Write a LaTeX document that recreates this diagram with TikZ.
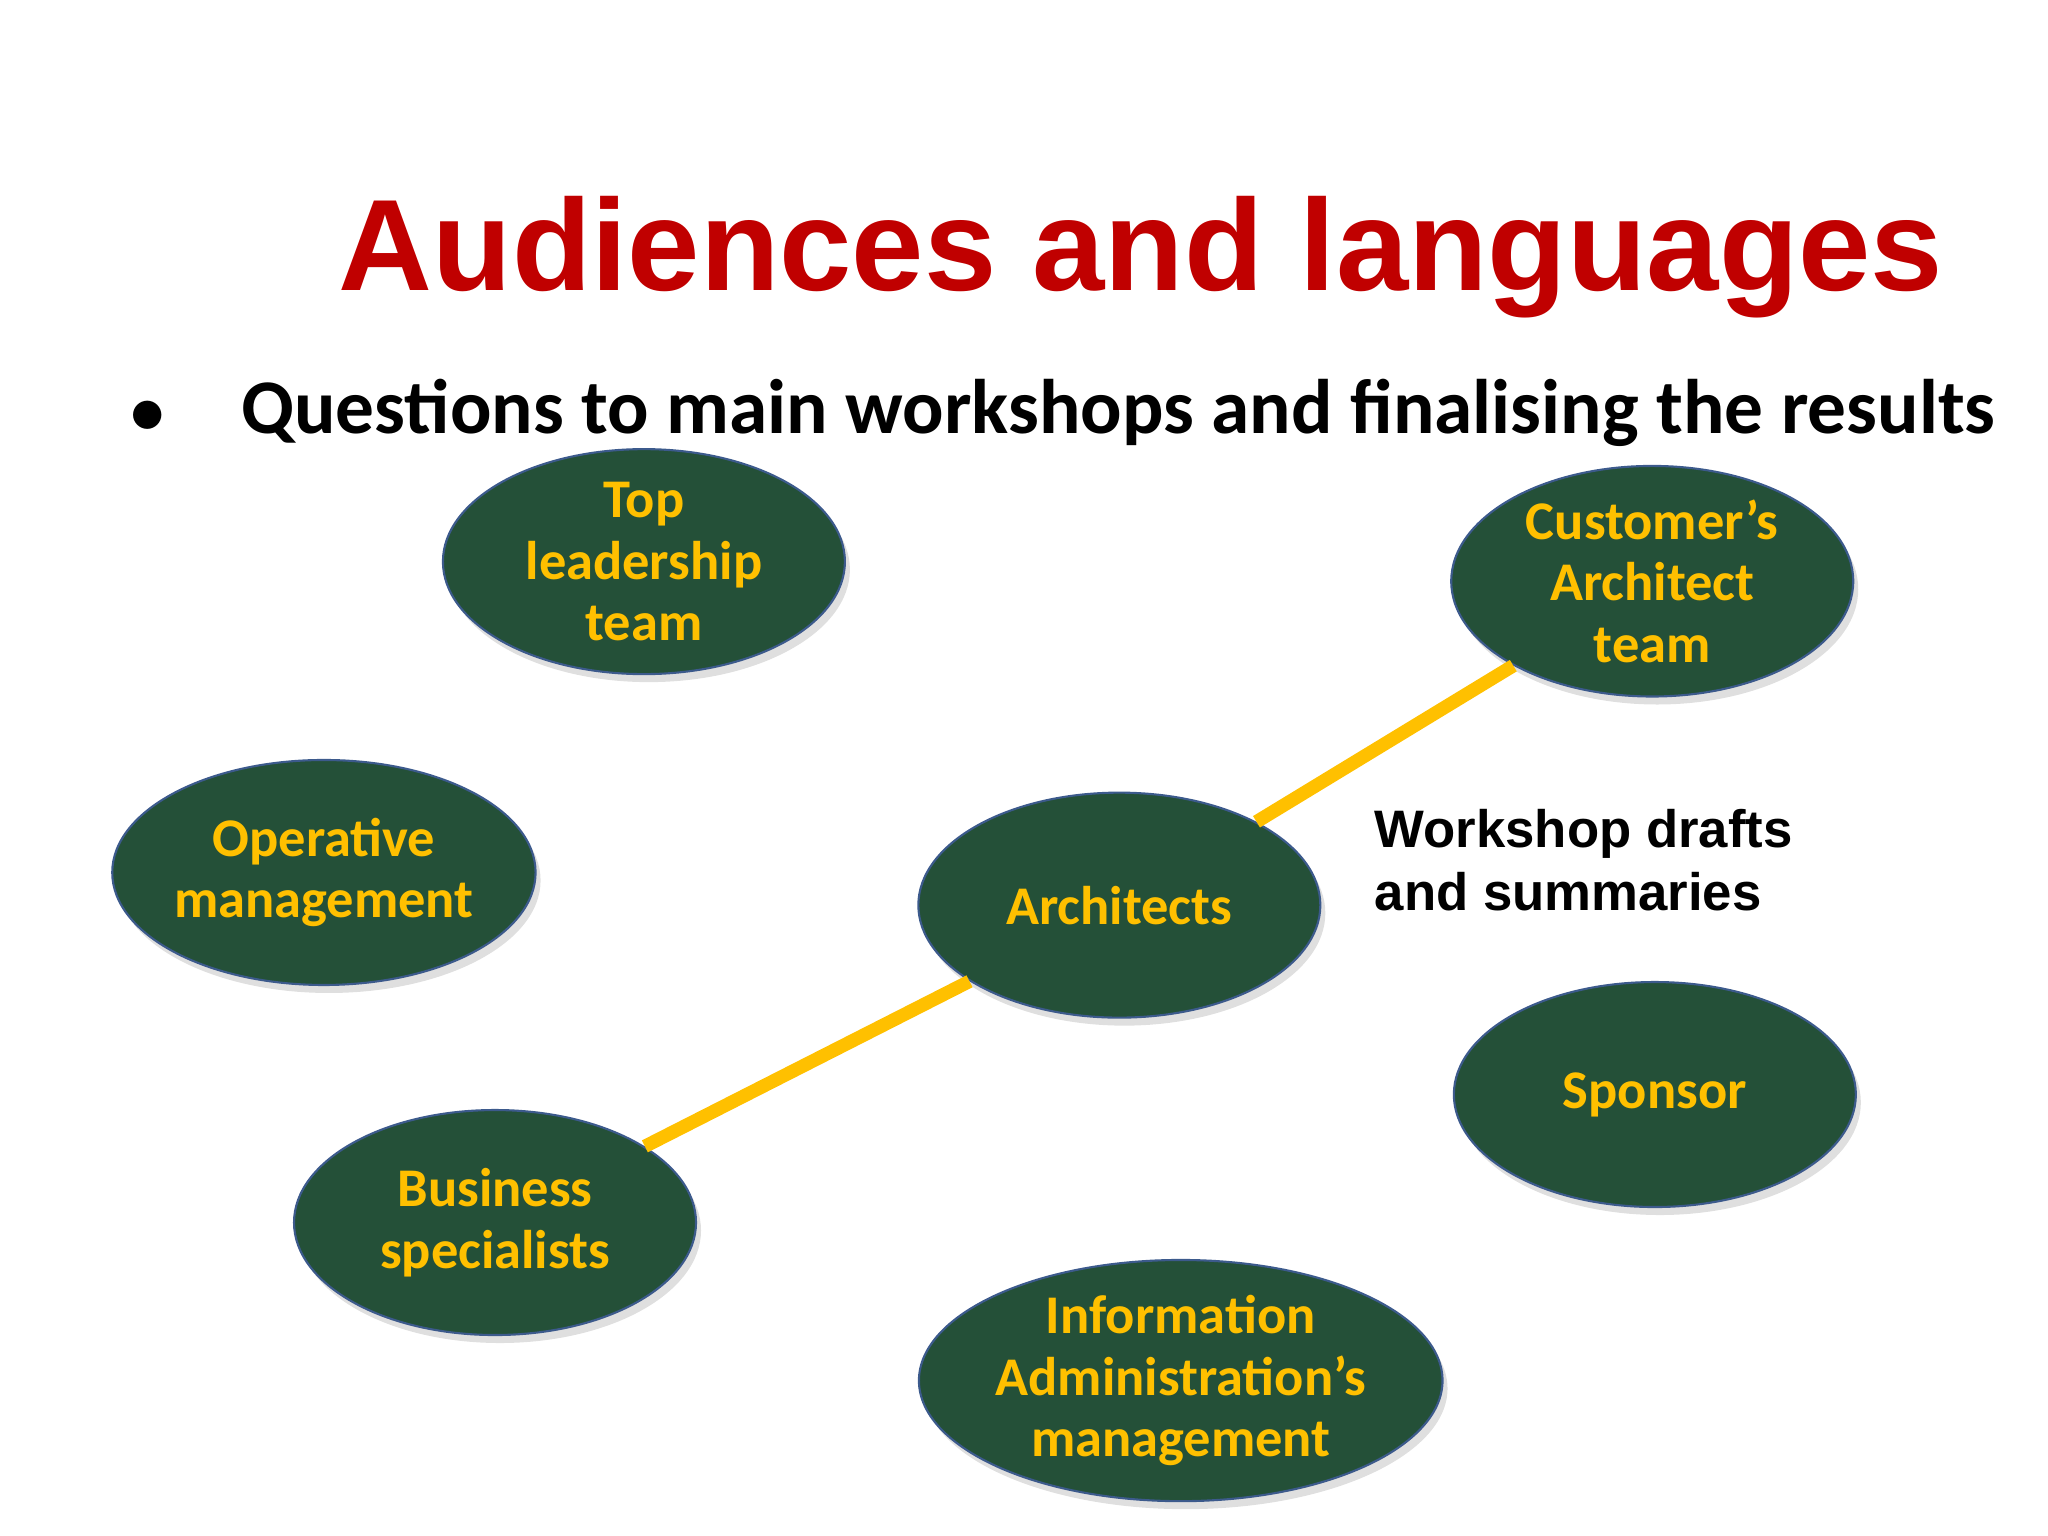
\documentclass[tikz,border=0pt]{standalone}
\usepackage{fontspec}
\setmainfont{Carlito}
\newfontfamily\arialf{Liberation Sans}
\usetikzlibrary{shapes.geometric,shadows}
\definecolor{titlered}{RGB}{192,0,0}
\definecolor{eggreen}{RGB}{36,80,56}
\definecolor{gold}{RGB}{255,192,0}
\definecolor{edgeblue}{RGB}{60,90,140}
\begin{document}
\begin{tikzpicture}[x=0.013061cm,y=-0.013061cm,
  aud/.style={ellipse,fill=eggreen,draw=edgeblue,line width=0.6pt,minimum width=308\pgflinewidth*0+4.02cm,minimum height=2.25cm,inner sep=0pt,
   font=\fontsize{15.5}{17.5}\selectfont\bfseries,text=gold,align=center,
   drop shadow={shadow xshift=0.05cm,shadow yshift=-0.08cm,opacity=0.25}},
  link/.style={gold,line width=3.8pt}]
\useasboundingbox (0,0) rectangle (1568,1176);
\node[font=\arialf\bfseries\fontsize{37}{40}\selectfont,text=titlered,anchor=west] (title) at (250,197) {Audiences and languages};
\node[font=\fontsize{22}{24}\selectfont\bfseries,anchor=west] (bul) at (90,316) {$\bullet$\hspace{0.75cm}Questions to main workshops and finalising the results};
\node[aud] (top) at (493,430) {Top\\leadership\\team};
\node[aud] (cust) at (1265,445) {Customer’s\\Architect\\team};
\node[aud] (oper) at (248,668) {Operative\\management};
\node[aud] (arch) at (857,693) {Architects};
\node[aud] (spon) at (1267,838) {Sponsor};
\node[aud] (bus) at (379,936) {Business\\specialists};
\node[aud] (info) at (904,1057) {Information\\Administration’s\\management};
\draw[link] (arch) -- (cust);
\draw[link] (arch) -- (bus);
\node[font=\arialf\bfseries\fontsize{15}{18}\selectfont,align=left,anchor=north west] (ws) at (1043,610) {Workshop drafts\\and summaries};
\end{tikzpicture}
\end{document}
